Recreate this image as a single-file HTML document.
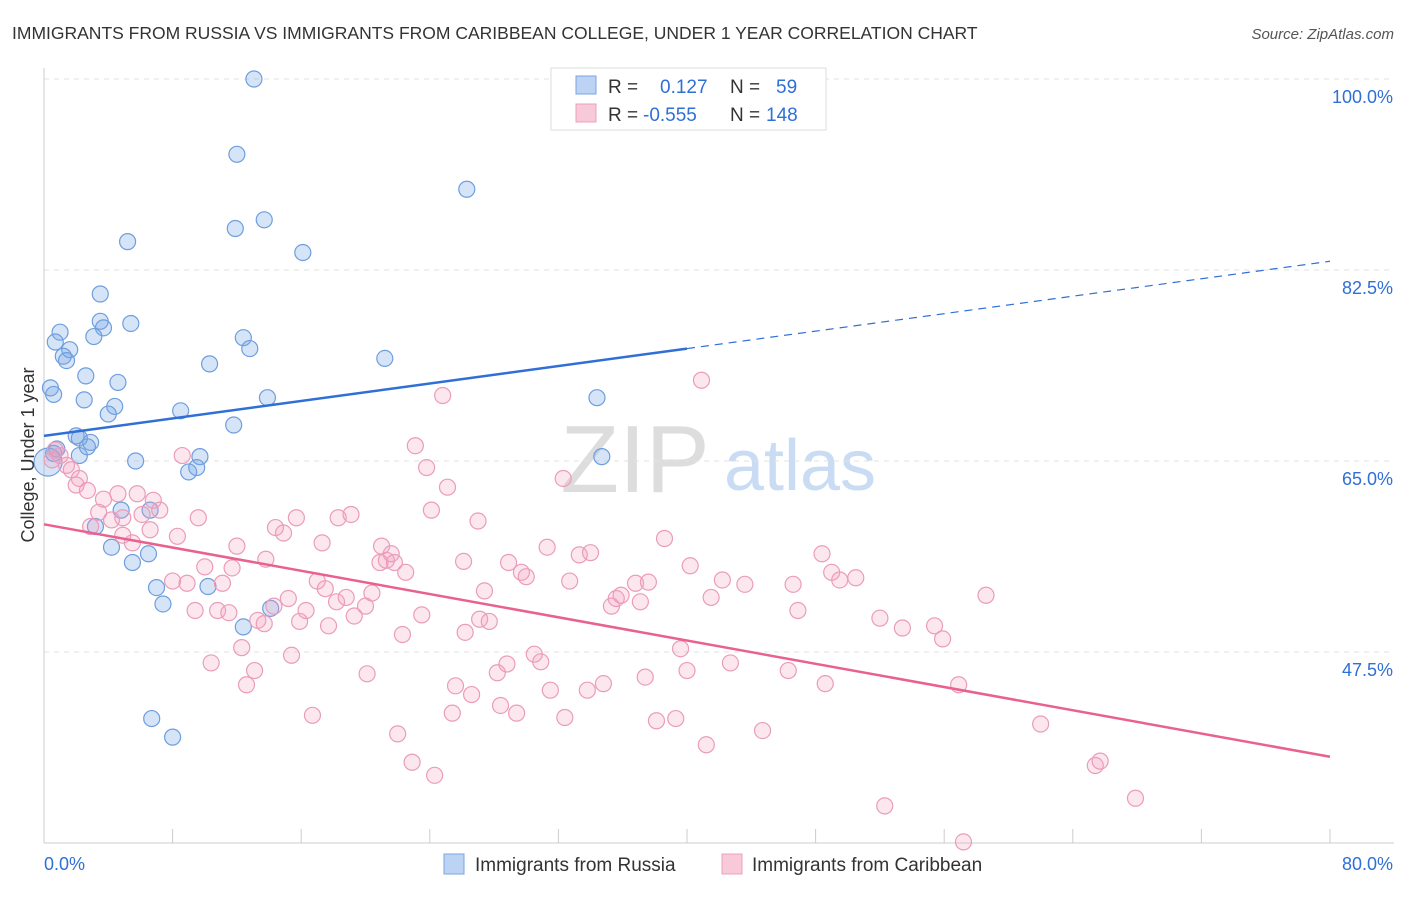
<!DOCTYPE html>
<html><head><meta charset="utf-8"><style>
body{margin:0;background:#fff;font-family:"Liberation Sans",sans-serif;}
svg text{font-family:"Liberation Sans",sans-serif;}
</style></head><body>
<svg id="chart" width="1406" height="892" viewBox="0 0 1406 892" xmlns="http://www.w3.org/2000/svg">
<text x="12" y="39" font-size="17.5" fill="#333">IMMIGRANTS FROM RUSSIA VS IMMIGRANTS FROM CARIBBEAN COLLEGE, UNDER 1 YEAR CORRELATION CHART</text>
<text x="1394" y="39" font-size="15" fill="#555" font-style="italic" text-anchor="end">Source: ZipAtlas.com</text>
<g>
<text x="635" y="492" font-size="96" fill="#ddd" text-anchor="middle" font-family="Liberation Serif,serif">ZIP</text>
<text x="800" y="490" font-size="72" fill="#c9dcf3" text-anchor="middle">atlas</text>
</g>
<g id="grid"></g>
<g id="axes"></g>
<g id="blue"></g>
<g id="pink"></g>
<g id="lines"></g>
<g>
<rect x="551" y="68" width="275" height="62" fill="#fff" stroke="#ddd"/>
<rect x="576" y="76" width="20" height="18" fill="#bcd3f3" stroke="#7aa6e0"/>
<rect x="576" y="104" width="20" height="18" fill="#f8c9d8" stroke="#eca0ba"/>
<text x="608" y="93" font-size="19" fill="#333">R =</text>
<text x="660" y="93" font-size="19" fill="#2f6fd6">0.127</text>
<text x="730" y="93" font-size="19" fill="#333">N =</text>
<text x="776" y="93" font-size="19" fill="#2f6fd6">59</text>
<text x="608" y="121" font-size="19" fill="#333">R =</text>
<text x="643" y="121" font-size="19" fill="#2f6fd6">-0.555</text>
<text x="730" y="121" font-size="19" fill="#333">N =</text>
<text x="766" y="121" font-size="19" fill="#2f6fd6">148</text>
</g>
<g>
<rect x="444" y="854" width="20" height="20" fill="#bcd3f3" stroke="#7aa6e0"/>
<text x="475" y="871" font-size="19" fill="#333">Immigrants from Russia</text>
<rect x="722" y="854" width="20" height="20" fill="#f8c9d8" stroke="#eca0ba"/>
<text x="752" y="871" font-size="19" fill="#333">Immigrants from Caribbean</text>
</g>
<text transform="translate(34,455) rotate(-90)" font-size="18" fill="#333" text-anchor="middle">College, Under 1 year</text>
</svg>
<script>
const yTicks=[100,82.5,65,47.5];
const yTickLabels=["100.0%","82.5%","65.0%","47.5%"];
const russiaX=[13.06,12.0,26.3,11.9,13.7,5.2,16.1,3.5,3.5,5.4,3.7,1.0,3.1,0.7,12.4,12.8,1.6,1.2,1.4,21.2,10.3,2.6,4.6,0.4,0.6,2.5,13.9,34.4,4.4,4.0,8.5,11.8,2.0,2.2,2.9,2.7,0.8,0.6,2.2,9.7,34.7,5.7,9.5,9.0,0.25,4.8,6.6,3.2,4.2,6.5,5.5,7.0,10.2,7.4,14.1,12.4,6.7,8.0];
const russiaY=[100,93.1,89.9,86.3,87.1,85.1,84.1,80.3,77.8,77.6,77.2,76.8,76.4,75.9,76.3,75.3,75.2,74.6,74.2,74.4,73.9,72.8,72.2,71.7,71.1,70.6,70.8,70.8,70.0,69.3,69.6,68.3,67.3,67.1,66.7,66.3,66.1,65.7,65.5,65.4,65.4,65.0,64.4,64.0,64.9,60.5,60.5,59.0,57.1,56.5,55.7,53.4,53.5,51.9,51.5,49.8,41.4,39.7];
const caribX=[0.7,1.0,0.5,1.4,1.7,2.2,2.0,2.7,3.7,4.6,5.8,6.8,7.2,6.1,4.9,3.4,4.2,2.9,4.9,5.5,6.6,8.3,9.6,8.6,12.0,13.8,14.4,14.9,15.7,17.3,18.3,19.1,21.0,20.9,21.3,21.8,22.5,21.6,23.1,23.8,24.8,25.1,24.1,27.0,26.1,28.9,29.7,30.0,31.3,32.3,32.7,33.3,34.0,35.3,35.6,35.9,36.8,37.1,37.6,38.6,40.2,40.9,41.5,42.2,43.6,46.6,46.9,48.4,49.0,49.5,50.5,52.0,53.4,55.4,55.9,58.6,8.9,8.0,10.0,11.7,11.1,9.4,10.8,11.5,13.3,13.7,14.3,15.2,15.9,16.3,17.0,17.5,18.2,18.8,19.3,17.7,20.4,20.0,22.3,23.5,27.4,27.1,27.7,26.2,12.3,10.4,13.1,12.6,15.4,20.1,16.7,22.0,22.9,24.3,25.4,25.6,26.6,28.2,28.8,28.4,29.4,30.5,30.9,31.5,32.4,33.8,34.8,37.4,38.1,39.3,39.6,40.0,42.7,41.2,44.7,46.3,48.6,52.3,56.9,57.2,62.0,65.4,65.7,67.9];
const caribY=[66.0,65.5,65.1,64.6,64.2,63.4,62.8,62.3,61.5,62.0,62.0,61.4,60.5,60.1,59.8,60.3,59.6,59.0,58.2,57.5,58.7,58.1,59.8,65.5,57.2,56.0,58.9,58.4,59.8,57.5,59.8,60.1,57.2,55.7,55.9,55.7,54.8,56.5,66.4,64.4,71.0,62.6,60.5,59.5,55.8,55.7,54.8,54.4,57.1,63.4,54.0,56.4,56.6,51.7,52.4,52.7,53.8,52.1,53.9,57.9,55.4,72.4,52.5,54.1,53.7,53.7,51.3,56.5,54.8,54.1,54.3,50.6,49.7,49.9,48.7,52.7,53.8,54.0,55.3,55.2,53.8,51.3,51.3,51.1,50.4,50.1,51.7,52.4,50.3,51.3,54.0,53.3,52.1,52.5,50.8,49.9,52.9,51.7,49.1,50.9,53.1,50.5,50.3,49.3,47.9,46.5,45.8,44.5,47.2,45.5,41.7,40.0,37.4,36.2,41.9,44.4,43.6,45.6,46.4,42.6,41.9,47.3,46.6,44.0,41.5,44.0,44.6,45.2,41.2,41.4,47.8,45.8,46.5,39.0,40.3,45.8,44.6,33.4,44.5,30.1,40.9,37.1,37.5,34.1];
const russiaTrend=[[0,67.3],[40,75.3],[80,83.3]];
const caribTrend=[[0,59.2],[80,37.9]];
const NS="http://www.w3.org/2000/svg";
const X0=44,X1=1330,YTOP=79;
function sx(v){return X0+(X1-X0)*v/80;}
function sy(v){return YTOP+(100-v)*191/17.5;}
function mk(tag,attrs,parent){const e=document.createElementNS(NS,tag);for(const k in attrs)e.setAttribute(k,attrs[k]);document.getElementById(parent).appendChild(e);return e;}
yTicks.forEach((t,i)=>{
 const g=mk('line',{x1:X0,x2:1394,y1:sy(t),y2:sy(t),stroke:'#e2e2e2','stroke-dasharray':'5,5'},'grid');
 
 
 const l=mk('text',{x:1393,y:sy(t)+24,'font-size':18,fill:'#2f6fd6','text-anchor':'end'},'axes');
 l.textContent=yTickLabels[i];
 
 
});
const ya=mk('line',{x1:X0,x2:X0,y1:68,y2:843,stroke:'#ccc'},'axes');


const xa=mk('line',{x1:X0,x2:1394,y1:843,y2:843,stroke:'#ccc'},'axes');


for(let i=0;i<=10;i++){const t=mk('line',{x1:sx(i*8),x2:sx(i*8),y1:829,y2:843,stroke:'#ccc'},'axes');
 
 }
const xl0=mk('text',{x:44,y:870,'font-size':18,fill:'#2f6fd6'},'axes');xl0.textContent='0.0%';


const xl1=mk('text',{x:1393,y:870,'font-size':18,fill:'#2f6fd6','text-anchor':'end'},'axes');xl1.textContent='80.0%';


russiaX.forEach((x,i)=>{const c=mk('circle',{cx:sx(x),cy:sy(russiaY[i]),r:i==44?14:8,fill:'rgba(120,165,230,0.3)',stroke:'#6e9ede','stroke-width':1.2},'blue');
 
 });
caribX.forEach((x,i)=>{const c=mk('circle',{cx:sx(x),cy:sy(caribY[i]),r:8,fill:'rgba(242,160,190,0.25)',stroke:'#eb9cb8','stroke-width':1.2},'pink');
 
 });
const b1=mk('line',{x1:sx(russiaTrend[0][0]),y1:sy(russiaTrend[0][1]),x2:sx(russiaTrend[1][0]),y2:sy(russiaTrend[1][1]),stroke:'#2f6fd6','stroke-width':2.5},'lines');


const b2=mk('line',{x1:sx(russiaTrend[1][0]),y1:sy(russiaTrend[1][1]),x2:sx(russiaTrend[2][0]),y2:sy(russiaTrend[2][1]),stroke:'#2f6fd6','stroke-width':1.2,'stroke-dasharray':'8,6'},'lines');


const p1=mk('line',{x1:sx(caribTrend[0][0]),y1:sy(caribTrend[0][1]),x2:sx(caribTrend[1][0]),y2:sy(caribTrend[1][1]),stroke:'#e8618f','stroke-width':2.5},'lines');


</script>
</body></html>
